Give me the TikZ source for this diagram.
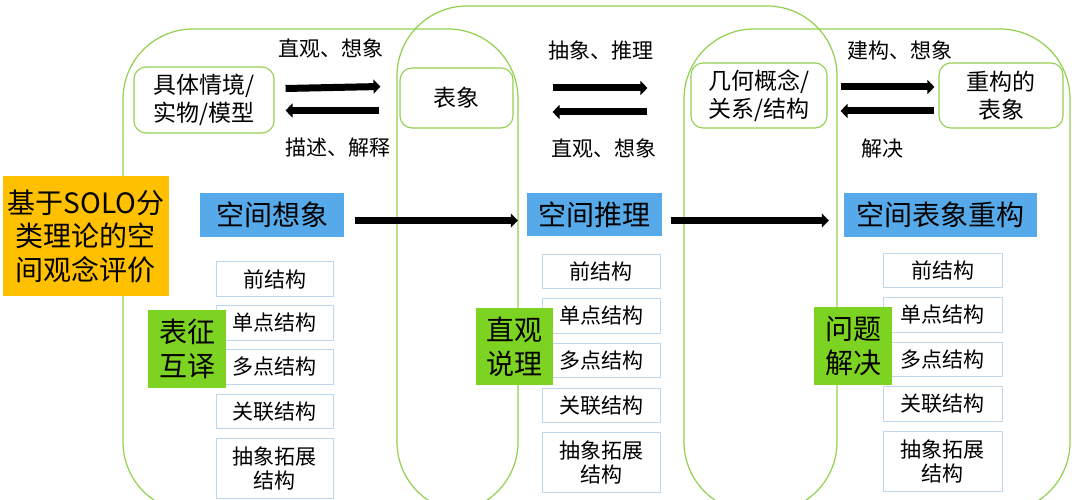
\documentclass[tikz,border=0pt]{standalone}
\usepackage{fontspec}
\setmainfont{Noto Sans CJK SC}
\usetikzlibrary{arrows.meta,calc}
\definecolor{framegreen}{RGB}{146,208,80}
\definecolor{lblue}{RGB}{189,215,238}
\definecolor{skyblue}{RGB}{86,170,234}
\definecolor{gold}{RGB}{255,192,0}
\definecolor{lime}{RGB}{125,211,33}
\begin{document}
\begin{tikzpicture}[x=1pt,y=-1pt,
  frame/.style={draw=framegreen,line width=1.2pt,rounded corners=70pt},
  rbox/.style={draw=framegreen,line width=1.1pt,rounded corners=12pt,fill=white,inner sep=0pt,align=center,font=\fontsize{23}{28}\selectfont},
  lvl/.style={draw=lblue,line width=1pt,fill=white,inner sep=0pt,align=center,font=\fontsize{21}{24}\selectfont},
  bluebox/.style={fill=skyblue,inner sep=0pt,align=center,font=\fontsize{28}{32}\selectfont},
  limebox/.style={fill=lime,inner sep=0pt,align=center,minimum width=78pt,minimum height=78pt,font=\fontsize{28}{34}\selectfont},
  lbl/.style={inner sep=0pt,font=\fontsize{21}{24}\selectfont},
  fat/.style={line width=7pt,-{Triangle[length=7pt,width=14pt]}},
]
\useasboundingbox (0,0) rectangle (1076,500);
\clip (0,0) rectangle (1076,500);
\fill[white] (0,0) rectangle (1076,500);

% frames
\draw[frame] (123,29) rectangle (518,512);
\draw[frame] (397,6) rectangle (837,512);
\draw[frame] (684,29) rectangle (1070,512);

% top boxes
\node[rbox,minimum width=140pt,minimum height=66pt] (ctx) at (204,100) {具体情境/\\实物/模型};
\node[rbox,minimum width=113pt,minimum height=60pt] (rep) at (456.5,98) {表象};
\node[rbox,minimum width=136pt,minimum height=65pt] (geo) at (759,95.5) {几何概念/\\关系/结构};
\node[rbox,minimum width=124pt,minimum height=65pt] (recon) at (1001,95.5) {重构的\\表象};

% labels
\node[lbl] (l1) at (331,48) {直观、想象};
\node[lbl] (l2) at (338,148) {描述、解释};
\node[lbl] (l3) at (601,50) {抽象、推理};
\node[lbl] (l4) at (604,148) {直观、想象};
\node[lbl] (l5) at (900,50) {建构、想象};
\node[lbl] (l6) at (882,149) {解决};

% arrows between top boxes
\draw[fat] ($(ctx.east)+(11,-11.5)$) -- ($(rep.west)+(-19,-11.5)$);
\draw[fat] ($(rep.west)+(-20,12.5)$) -- ($(ctx.east)+(11,10.5)$);
\draw[fat] ($(rep.east)+(39,-10)$) -- ($(geo.west)+(-43,-7.5)$);
\draw[fat] ($(geo.west)+(-43,16.5)$) -- ($(rep.east)+(39,14)$);
\draw[fat] ($(geo.east)+(13,-8.5)$) -- ($(recon.west)+(-4,-8.5)$);
\draw[fat] ($(recon.west)+(-4,15.5)$) -- ($(geo.east)+(13,15.5)$);

% title
\node[fill=gold,inner sep=0pt,align=center,minimum width=166pt,minimum height=120pt,
      font=\fontsize{28}{33.5}\selectfont] (title) at (86,236) {基于SOLO分\\类理论的空\\间观念评价};

% blue boxes
\node[bluebox,minimum width=144pt,minimum height=44pt] (b1) at (272,215) {空间想象};
\node[bluebox,minimum width=135pt,minimum height=43pt] (b2) at (594.5,214.5) {空间推理};
\node[bluebox,minimum width=193pt,minimum height=44pt] (b3) at (940.5,215) {空间表象重构};
\draw[fat] ($(b1.east)+(11,5.5)$) -- ($(b2.west)+(-9,6)$);
\draw[fat] ($(b2.east)+(9,6)$) -- ($(b3.west)+(-15,5.5)$);

% level columns
\node[lvl,minimum width=117pt,minimum height=34.5pt] (a1) at (274.5,279) {前结构};
\node[lvl,minimum width=117pt,minimum height=34.5pt] (a2) at (274.5,323) {单点结构};
\node[lvl,minimum width=117pt,minimum height=34.5pt] (a3) at (274.5,367) {多点结构};
\node[lvl,minimum width=117pt,minimum height=34.5pt] (a4) at (274.5,411.5) {关联结构};
\node[lvl,minimum width=117pt,minimum height=59.5pt] (a5) at (274.5,468.5) {抽象拓展\\结构};

\node[lvl,minimum width=118pt,minimum height=34.5pt] (c1) at (601,271.5) {前结构};
\node[lvl,minimum width=118pt,minimum height=34.5pt] (c2) at (601,316) {单点结构};
\node[lvl,minimum width=118pt,minimum height=34.5pt] (c3) at (601,360.5) {多点结构};
\node[lvl,minimum width=118pt,minimum height=34.5pt] (c4) at (601,405.5) {关联结构};
\node[lvl,minimum width=118pt,minimum height=59.5pt] (c5) at (601,462.5) {抽象拓展\\结构};

\node[lvl,minimum width=119pt,minimum height=34.5pt] (d1) at (942.5,270.5) {前结构};
\node[lvl,minimum width=119pt,minimum height=34.5pt] (d2) at (942.5,315) {单点结构};
\node[lvl,minimum width=119pt,minimum height=34.5pt] (d3) at (942.5,359.5) {多点结构};
\node[lvl,minimum width=119pt,minimum height=34.5pt] (d4) at (942.5,404) {关联结构};
\node[lvl,minimum width=119pt,minimum height=60pt] (d5) at (942.5,461.5) {抽象拓展\\结构};

% lime labels
\node[limebox] (g1) at (187,349) {表征\\互译};
\node[limebox,minimum width=77pt,minimum height=77pt] (g2) at (514.5,346.5) {直观\\说理};
\node[limebox] (g3) at (853,346) {问题\\解决};
\end{tikzpicture}
\end{document}
